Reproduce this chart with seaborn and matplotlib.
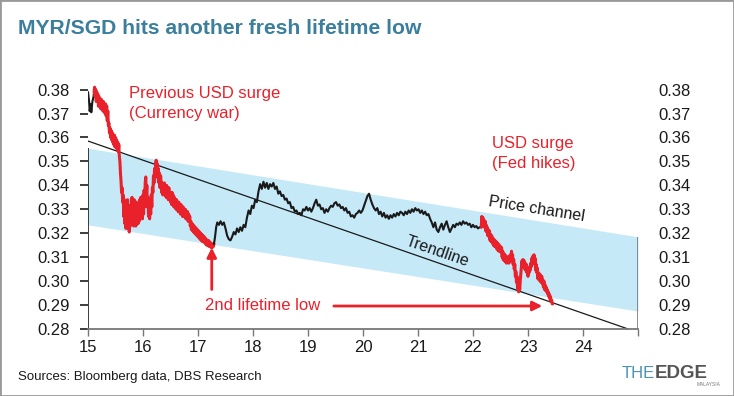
import numpy as np
import pandas as pd
import matplotlib
matplotlib.use("Agg")
import matplotlib.pyplot as plt
from matplotlib.patches import Rectangle
import seaborn as sns

# ---- data ----
# x = year (15 = 2015), y = MYR/SGD
start_years = [15.00, 15.02, 15.03, 15.05, 15.06, 15.08, 15.10, 15.11]
start_rates = [0.379, 0.375, 0.371, 0.374, 0.3705, 0.375, 0.377, 0.379]

surge1_years = [
    15.11, 15.12, 15.13, 15.14, 15.15, 15.16, 15.17, 15.18, 15.19, 15.20,
    15.21, 15.22, 15.23, 15.24, 15.25, 15.26, 15.27, 15.28, 15.29, 15.30,
    15.31, 15.32, 15.33, 15.34, 15.35, 15.36, 15.37, 15.38, 15.39, 15.40,
    15.41, 15.42, 15.43, 15.44, 15.45, 15.46, 15.47, 15.48, 15.49, 15.50,
    15.51, 15.52, 15.53, 15.54, 15.55, 15.56, 15.57, 15.58, 15.59, 15.60,
    15.61, 15.62, 15.63, 15.64, 15.65, 15.66, 15.67, 15.68, 15.69, 15.70,
    15.71, 15.72, 15.73, 15.74, 15.75, 15.76, 15.77, 15.78, 15.79, 15.80,
    15.81, 15.82, 15.83, 15.84, 15.85, 15.86, 15.87, 15.88, 15.89, 15.90,
    15.91, 15.92, 15.93, 15.94, 15.95, 15.96, 15.97, 15.98, 15.99, 16.00,
    16.01, 16.02, 16.03, 16.04, 16.05, 16.06, 16.07, 16.08, 16.09, 16.10,
    16.11, 16.12, 16.13, 16.14, 16.15, 16.16, 16.17, 16.18, 16.19, 16.20,
    16.21, 16.22, 16.23, 16.24, 16.25, 16.26, 16.27, 16.28, 16.29, 16.30,
    16.31, 16.32, 16.33, 16.34, 16.35, 16.36, 16.37, 16.38, 16.39, 16.40,
    16.41, 16.42, 16.43, 16.44, 16.45, 16.46, 16.47, 16.48, 16.49, 16.50,
    16.51, 16.52, 16.53, 16.54, 16.55, 16.56, 16.57, 16.58, 16.59, 16.60,
    16.61, 16.62, 16.63, 16.64, 16.65, 16.66, 16.67, 16.68, 16.69, 16.70,
    16.71, 16.72, 16.73, 16.74, 16.75, 16.76, 16.77, 16.78, 16.79, 16.80,
    16.81, 16.82, 16.83, 16.84, 16.85, 16.86, 16.87, 16.88, 16.89, 16.90,
    16.91, 16.92, 16.93, 16.94, 16.95, 16.96, 16.97, 16.98, 16.99, 17.00,
    17.01, 17.02, 17.03, 17.04, 17.05, 17.06, 17.07, 17.08, 17.09, 17.10,
    17.11, 17.12, 17.13, 17.14, 17.15, 17.16, 17.17, 17.18, 17.19, 17.20,
    17.21, 17.22, 17.23, 17.24, 17.25, 17.26, 17.27, 17.28, 17.29]
surge1_rates = [
    0.379, 0.381, 0.377, 0.380, 0.375, 0.379, 0.376, 0.378, 0.373, 0.377,
    0.374, 0.376, 0.372, 0.376, 0.373, 0.375, 0.371, 0.375, 0.372, 0.374,
    0.370, 0.374, 0.369, 0.373, 0.367, 0.371, 0.365, 0.366, 0.362, 0.364,
    0.360, 0.363, 0.359, 0.362, 0.358, 0.361, 0.357, 0.361, 0.356, 0.360,
    0.357, 0.359, 0.355, 0.358, 0.354, 0.357, 0.352, 0.350, 0.345, 0.342,
    0.337, 0.339, 0.333, 0.336, 0.327, 0.334, 0.324, 0.333, 0.322, 0.332,
    0.323, 0.334, 0.322, 0.331, 0.3205, 0.329, 0.323, 0.332, 0.324, 0.335,
    0.325, 0.333, 0.323, 0.334, 0.325, 0.332, 0.323, 0.333, 0.325, 0.331,
    0.324, 0.332, 0.325, 0.334, 0.326, 0.335, 0.327, 0.333, 0.326, 0.336,
    0.328, 0.338, 0.331, 0.341, 0.3435, 0.336, 0.340, 0.331, 0.335, 0.327,
    0.333, 0.326, 0.334, 0.328, 0.336, 0.331, 0.339, 0.337, 0.344, 0.341,
    0.347, 0.344, 0.349, 0.3505, 0.346, 0.349, 0.343, 0.347, 0.341, 0.345,
    0.339, 0.344, 0.341, 0.337, 0.341, 0.336, 0.340, 0.337, 0.341, 0.336,
    0.339, 0.335, 0.340, 0.335, 0.338, 0.334, 0.339, 0.334, 0.337, 0.333,
    0.337, 0.332, 0.337, 0.332, 0.336, 0.331, 0.335, 0.331, 0.334, 0.330,
    0.334, 0.330, 0.333, 0.329, 0.333, 0.329, 0.332, 0.328, 0.332, 0.328,
    0.331, 0.327, 0.331, 0.327, 0.330, 0.327, 0.330, 0.326, 0.329, 0.326,
    0.329, 0.325, 0.328, 0.325, 0.327, 0.323, 0.325, 0.3215, 0.324, 0.321,
    0.3235, 0.3205, 0.323, 0.320, 0.3225, 0.3195, 0.322, 0.319, 0.3215, 0.3185,
    0.321, 0.318, 0.3205, 0.3175, 0.320, 0.317, 0.3195, 0.3165, 0.319, 0.3165,
    0.3185, 0.316, 0.318, 0.3155, 0.3175, 0.315, 0.317, 0.315, 0.317, 0.3145,
    0.3165, 0.3145, 0.316, 0.314, 0.3155, 0.314, 0.3155, 0.3145, 0.3155]

calm_years = [17.29, 17.31, 17.33, 17.35, 17.38, 17.41, 17.44, 17.47, 17.50, 17.53,
              17.56, 17.59, 17.62, 17.65, 17.68, 17.71, 17.74, 17.77, 17.80, 17.83,
              17.86, 17.89, 17.92, 17.95, 17.98, 18.01, 18.04, 18.07, 18.10, 18.13,
              18.16, 18.19, 18.22, 18.25, 18.28, 18.31, 18.34, 18.37, 18.40, 18.43,
              18.46, 18.49, 18.52, 18.55, 18.58, 18.61, 18.64, 18.67, 18.70, 18.73,
              18.76, 18.79, 18.82, 18.85, 18.88, 18.91, 18.94, 18.97, 19.00, 19.03,
              19.06, 19.09, 19.12, 19.15, 19.18, 19.21, 19.24, 19.27, 19.30, 19.33,
              19.36, 19.39, 19.42, 19.45, 19.48, 19.51, 19.54, 19.57, 19.60, 19.63,
              19.66, 19.69, 19.72, 19.75, 19.78, 19.81, 19.84, 19.87, 19.90, 19.93,
              19.96, 19.99, 20.02, 20.05, 20.08, 20.11, 20.14, 20.17, 20.20, 20.23,
              20.26, 20.29, 20.32, 20.35, 20.38, 20.41, 20.44, 20.47, 20.50, 20.53,
              20.56, 20.59, 20.62, 20.65, 20.68, 20.71, 20.74, 20.77, 20.80, 20.83,
              20.86, 20.89, 20.92, 20.95, 20.98, 21.01, 21.04, 21.07, 21.10, 21.13,
              21.16, 21.19, 21.22, 21.25, 21.28, 21.31, 21.34, 21.37, 21.40, 21.43,
              21.46, 21.49, 21.52, 21.55, 21.58, 21.61, 21.64, 21.67, 21.70, 21.73,
              21.76, 21.79, 21.82, 21.85, 21.88, 21.91, 21.94, 21.97, 22.00, 22.03,
              22.06, 22.09, 22.12, 22.15]
calm_rates = [0.3155, 0.3185, 0.3225, 0.3245, 0.3235, 0.325, 0.3235, 0.3245, 0.322, 0.319,
              0.3175, 0.317, 0.3185, 0.3205, 0.3195, 0.322, 0.3205, 0.3225, 0.321, 0.3235,
              0.3225, 0.3265, 0.3295, 0.328, 0.3315, 0.3305, 0.334, 0.333, 0.3375, 0.3405,
              0.3385, 0.3415, 0.339, 0.341, 0.3385, 0.3405, 0.3395, 0.341, 0.3385, 0.3395,
              0.3365, 0.3375, 0.3355, 0.336, 0.334, 0.3345, 0.3325, 0.333, 0.3305, 0.331,
              0.329, 0.3295, 0.328, 0.3285, 0.3275, 0.330, 0.3295, 0.331, 0.3295, 0.3305,
              0.329, 0.3305, 0.3325, 0.334, 0.3315, 0.332, 0.330, 0.3305, 0.3285, 0.330,
              0.329, 0.3305, 0.3315, 0.331, 0.3325, 0.333, 0.3315, 0.332, 0.3305, 0.331,
              0.3295, 0.3305, 0.3285, 0.329, 0.327, 0.3275, 0.3265, 0.328, 0.3285, 0.3295,
              0.3285, 0.3295, 0.3315, 0.3335, 0.3355, 0.3365, 0.334, 0.332, 0.3305, 0.3295,
              0.3305, 0.328, 0.329, 0.327, 0.3285, 0.3265, 0.3275, 0.326, 0.3275, 0.3265,
              0.328, 0.327, 0.3285, 0.3275, 0.329, 0.3285, 0.3275, 0.329, 0.328, 0.3295,
              0.3285, 0.330, 0.329, 0.3305, 0.3295, 0.330, 0.3285, 0.3295, 0.328, 0.329,
              0.3275, 0.328, 0.326, 0.3245, 0.3225, 0.3245, 0.3215, 0.3205, 0.3225, 0.324,
              0.3215, 0.3235, 0.325, 0.3225, 0.3205, 0.322, 0.3235, 0.3225, 0.324, 0.3235,
              0.3245, 0.3235, 0.325, 0.324, 0.3245, 0.3235, 0.324, 0.3225, 0.3235, 0.3225,
              0.323, 0.322, 0.3225, 0.3225]

surge2_years = [22.15, 22.16, 22.17, 22.18, 22.19, 22.20, 22.21, 22.22, 22.23, 22.24,
                22.25, 22.26, 22.27, 22.28, 22.29, 22.30, 22.31, 22.32, 22.33, 22.34,
                22.35, 22.36, 22.37, 22.38, 22.39, 22.40, 22.41, 22.42, 22.43, 22.44,
                22.45, 22.46, 22.47, 22.48, 22.49, 22.50, 22.51, 22.52, 22.53, 22.54,
                22.55, 22.56, 22.57, 22.58, 22.59, 22.60, 22.61, 22.62, 22.63, 22.64,
                22.65, 22.66, 22.67, 22.68, 22.69, 22.70, 22.71, 22.72, 22.73, 22.74,
                22.75, 22.76, 22.77, 22.78, 22.79, 22.80, 22.81, 22.82, 22.83, 22.84,
                22.85, 22.86, 22.87, 22.88, 22.89, 22.90, 22.91, 22.92, 22.93, 22.94,
                22.95, 22.96, 22.97, 22.98, 22.99, 23.00, 23.01, 23.02, 23.03, 23.04,
                23.05, 23.06, 23.07, 23.08, 23.09, 23.10, 23.11, 23.12, 23.13, 23.14,
                23.15, 23.16, 23.17, 23.18, 23.19, 23.20, 23.21, 23.22, 23.23, 23.24,
                23.25, 23.26, 23.27, 23.28, 23.29, 23.30, 23.31, 23.32, 23.33, 23.34,
                23.35, 23.36, 23.37, 23.38, 23.39, 23.40, 23.41, 23.42, 23.43, 23.44,
                23.45]
surge2_rates = [0.3225, 0.327, 0.3245, 0.3265, 0.323, 0.3255, 0.3225, 0.325, 0.321, 0.3235,
                0.3205, 0.3225, 0.319, 0.3215, 0.3185, 0.321, 0.317, 0.3195, 0.3165, 0.319,
                0.316, 0.318, 0.315, 0.3175, 0.3145, 0.317, 0.3145, 0.3165, 0.3135, 0.316,
                0.313, 0.3155, 0.3125, 0.315, 0.3125, 0.3145, 0.312, 0.314, 0.310, 0.3125,
                0.309, 0.3115, 0.3085, 0.311, 0.308, 0.3105, 0.3075, 0.310, 0.308, 0.3095,
                0.3075, 0.3105, 0.308, 0.311, 0.309, 0.3125, 0.3095, 0.311, 0.307, 0.309,
                0.305, 0.307, 0.302, 0.304, 0.2995, 0.302, 0.297, 0.2995, 0.2955, 0.2985,
                0.2965, 0.3005, 0.303, 0.306, 0.3085, 0.3065, 0.309, 0.306, 0.3085, 0.305,
                0.3075, 0.3045, 0.307, 0.3035, 0.3055, 0.302, 0.3045, 0.3035, 0.306, 0.3045,
                0.3075, 0.306, 0.3095, 0.307, 0.3105, 0.3085, 0.311, 0.3075, 0.3095, 0.3045,
                0.307, 0.3035, 0.3055, 0.301, 0.3035, 0.3005, 0.303, 0.300, 0.3025, 0.2995,
                0.302, 0.299, 0.3005, 0.2975, 0.3, 0.2965, 0.2985, 0.296, 0.2975, 0.2955,
                0.2965, 0.2945, 0.2955, 0.2935, 0.2945, 0.2925, 0.2935, 0.2915, 0.292, 0.2905,
                0.2905]

# price channel (upper / lower edge) and trendline end points
channel_x = [15, 25]
channel_top = [0.3555, 0.3185]
channel_bottom = [0.3235, 0.2875]
trend_x = [15, 24.82]
trend_y = [0.3585, 0.280]

x_ticks = list(range(15, 26))
x_labels = [str(t) for t in range(15, 25)] + [""]
y_ticks = [0.28, 0.29, 0.30, 0.31, 0.32, 0.33, 0.34, 0.35, 0.36, 0.37, 0.38]

RED = "#e8212b"
BLACK = "#1a1a1a"
TEAL = "#3b7f9c"
BLUE = "#c6e9f8"

sns.set_theme(style="white")
plt.rcParams["font.family"] = ["Liberation Sans", "DejaVu Sans"]

fig = plt.figure(figsize=(7.34, 3.96), dpi=100)
ax = fig.add_axes([0.1199, 0.1692, 0.7493, 0.6288])

ax.fill_between(channel_x, channel_bottom, channel_top, color=BLUE, lw=0, zorder=1)
ax.plot(trend_x, trend_y, color=BLACK, lw=0.9, zorder=2)

segments = [
    (start_years, start_rates, BLACK, 1.5),
    (surge1_years, surge1_rates, RED, 2.2),
    (calm_years, calm_rates, BLACK, 1.5),
    (surge2_years, surge2_rates, RED, 2.2),
]
for xs, ys, col, lw in segments:
    seg = pd.DataFrame({"year": xs, "rate": ys})
    sns.lineplot(data=seg, x="year", y="rate", color=col, lw=lw, ax=ax,
                 estimator=None, sort=False, zorder=3)

# channel edges act as left / right spines
ax.vlines(15, 0.28, channel_top[0], color=BLACK, lw=1.2, zorder=2)
ax.vlines(25, 0.28, channel_top[1], color="#777777", lw=1.2, zorder=2)

ax.set_xlim(15, 25)
ax.set_ylim(0.28, 0.384)
for s in ["top", "left", "right"]:
    ax.spines[s].set_visible(False)
ax.spines["bottom"].set_color("#777777")
ax.spines["bottom"].set_linewidth(1.3)

ax.set_xticks(x_ticks)
ax.set_xticklabels(x_labels)
ax.tick_params(axis="x", bottom=True, length=5, width=1, color="#777777",
               pad=3, labelsize=12, labelcolor=BLACK)
ax.set_yticks(y_ticks)
ax.set_yticklabels([f"{v:.2f}" for v in y_ticks])
ax.tick_params(axis="y", left=False, pad=7, labelsize=12, labelcolor=BLACK)
ax.set_xlabel("")
ax.set_ylabel("")

ax2 = ax.twinx()
ax2.set_ylim(ax.get_ylim())
ax2.set_yticks(y_ticks)
ax2.set_yticklabels([f"{v:.2f}" for v in y_ticks])
ax2.tick_params(axis="y", right=False, pad=9, labelsize=12, labelcolor=BLACK)
for s in ax2.spines.values():
    s.set_visible(False)
ax2.grid(False)
ax.grid(False)

# annotations
ax.text(15.745, 0.3783, "Previous USD surge", color=RED, fontsize=12, va="center")
ax.text(15.745, 0.3699, "(Currency war)", color=RED, fontsize=12, va="center")
ax.text(22.345, 0.3574, "USD surge", color=RED, fontsize=12, va="center")
ax.text(22.345, 0.3490, "(Fed hikes)", color=RED, fontsize=12, va="center")
ax.text(23.16, 0.3300, "Price channel", color=BLACK, fontsize=11.5,
        rotation=-9, ha="center", va="center")
ax.text(21.36, 0.3122, "Trendline", color=BLACK, fontsize=11.5,
        rotation=-19, ha="center", va="center")
ax.text(17.13, 0.2898, "2nd lifetime low", color=RED, fontsize=12, va="center")

ax.annotate("", xy=(23.26, 0.2896), xytext=(19.47, 0.2896),
            arrowprops=dict(arrowstyle="-|>", color=RED, lw=2, mutation_scale=14,
                            shrinkA=0, shrinkB=0))
ax.annotate("", xy=(17.25, 0.3140), xytext=(17.25, 0.2965),
            arrowprops=dict(arrowstyle="-|>", color=RED, lw=2, mutation_scale=14,
                            shrinkA=0, shrinkB=0))

# title, source, logo
fig.text(0.0245, 0.927, "MYR/SGD hits another fresh lifetime low", color=TEAL,
         fontsize=15.2, fontweight="bold", va="center")
fig.text(0.0245, 0.048, "Sources: Bloomberg data, DBS Research", color=BLACK,
         fontsize=9.5, va="center")
fig.text(0.892, 0.058, "THE", color="#4a93b3", fontsize=12, ha="right", va="center")
fig.text(0.892, 0.058, "EDGE", color="#555555", fontsize=13.5, fontweight="bold",
         ha="left", va="center")
fig.text(0.981, 0.030, "MALAYSIA", color="#777777", fontsize=3.5, ha="right", va="center")

fig.add_artist(Rectangle((0, 0), 1, 1, transform=fig.transFigure, fill=False,
                         ec="#999999", lw=2))

fig.savefig("out.png", dpi=100)
